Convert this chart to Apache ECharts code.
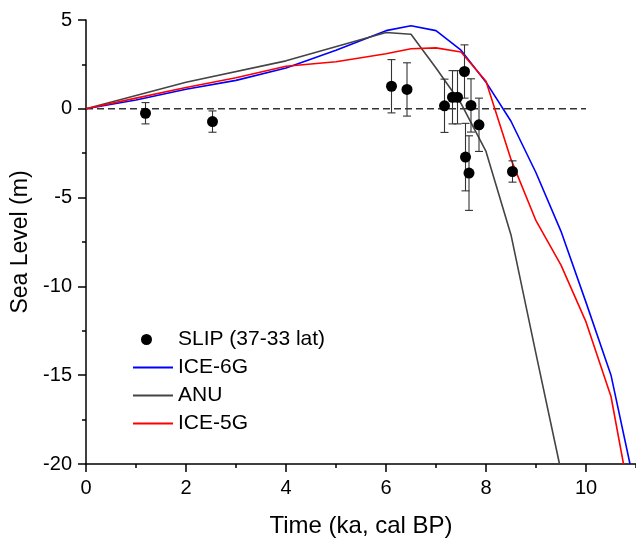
<!DOCTYPE html>
<html>
<head>
<meta charset="utf-8">
<script src="https://cdn.jsdelivr.net/npm/echarts@6/dist/echarts.min.js"></script>
<style>html,body{margin:0;padding:0;background:#fff}#c{width:636px;height:543px}</style>
</head>
<body>
<div id="c"></div>
<script>
// SLIP data (37-33 lat)
const slipX = [1.19, 2.53, 6.11, 6.42, 7.17, 7.33, 7.43, 7.57, 7.59, 7.66, 7.70, 7.86, 8.53];
const slipY = [-0.25, -0.72, 1.27, 1.09, 0.17, 0.65, 0.65, 2.10, -2.72, -3.62, 0.19, -0.90, -3.53];
const slipErr = [0.6, 0.6, 1.5, 1.5, 1.5, 1.5, 1.5, 1.5, 1.9, 2.1, 1.5, 1.5, 0.6];

// ICE-6G
const ice6gX = [0, 1, 2, 3, 4, 5, 6, 6.5, 7, 7.5, 8, 8.5, 9, 9.5, 10, 10.5, 10.88];
const ice6gY = [0, 0.5, 1.1, 1.6, 2.3, 3.3, 4.4, 4.68, 4.4, 3.3, 1.5, -0.7, -3.6, -6.9, -10.9, -15.0, -20];

// ANU
const anuX = [0, 2, 4, 6, 6.5, 7, 7.5, 8, 8.5, 9, 9.47];
const anuY = [0, 1.5, 2.7, 4.3, 4.2, 2.3, 0.3, -2.4, -7.1, -13.8, -20];

// ICE-5G
const ice5gX = [0, 1, 2, 3, 4, 5, 6, 6.5, 7, 7.5, 8, 8.5, 9, 9.5, 10, 10.5, 10.75];
const ice5gY = [0, 0.6, 1.2, 1.75, 2.4, 2.65, 3.1, 3.38, 3.43, 3.2, 1.55, -2.85, -6.3, -8.8, -12.0, -16.2, -20];

// zero reference line
const zeroX = [0, 10];
const zeroY = [0, 0];

const pairs = (xs, ys) => xs.map((x, i) => [x, ys[i]]);
const errData = slipX.map((x, i) => [x, slipY[i] - slipErr[i], slipY[i] + slipErr[i]]);

const font = 'Liberation Sans, Arial, sans-serif';
const lineIcon = 'path://M0,0 L40,0 L40,2 L0,2 Z';
const dotIcon = 'path://M0,0 L0,0 Z M40,11 L40,11 Z M8,5.5 A5.5,5.5 0 1,0 19,5.5 A5.5,5.5 0 1,0 8,5.5 Z';
const chart = echarts.init(document.getElementById('c'), null, {renderer: 'canvas'});

chart.setOption({
  animation: false,
  backgroundColor: '#fff',
  textStyle: {fontFamily: font},
  grid: {left: 86, top: 20, width: 553, height: 444, containLabel: false},
  legend: {
    orient: 'vertical',
    left: 128,
    top: 324,
    itemWidth: 40,
    itemHeight: 11,
    itemGap: 7,
    symbolKeepAspect: true,
    textStyle: {fontSize: 21, color: '#000', fontFamily: font},
    data: [
      {name: 'SLIP (37-33 lat)', icon: dotIcon, itemStyle: {color: '#000', opacity: 1}},
      {name: 'ICE-6G', icon: lineIcon, itemStyle: {color: '#0000ff'}},
      {name: 'ANU', icon: lineIcon, itemStyle: {color: '#444'}},
      {name: 'ICE-5G', icon: lineIcon, itemStyle: {color: '#ff0000'}}
    ]
  },
  xAxis: [
    {
      type: 'value', min: 0, max: 11, interval: 2,
      name: 'Time (ka, cal BP)', nameLocation: 'middle', nameGap: 50,
      nameTextStyle: {fontSize: 24, color: '#000', fontFamily: font},
      axisLine: {onZero: false, lineStyle: {color: '#000', width: 1.5}},
      axisTick: {length: 8, lineStyle: {color: '#000', width: 1.5}},
      axisLabel: {fontSize: 20, color: '#000', margin: 14, showMaxLabel: false, fontFamily: font},
      splitLine: {show: false}
    },
    {
      type: 'value', min: 0, max: 11, interval: 1, position: 'bottom',
      axisLine: {show: false, onZero: false},
      axisTick: {length: 4, lineStyle: {color: '#000', width: 1.5}},
      axisLabel: {show: false},
      splitLine: {show: false}
    }
  ],
  yAxis: {
    type: 'value', min: -20, max: 5, interval: 5,
    name: 'Sea Level (m)', nameLocation: 'middle', nameGap: 50,
    nameTextStyle: {fontSize: 23, color: '#000', fontFamily: font},
    axisLine: {onZero: false, lineStyle: {color: '#000', width: 1.5}},
    axisTick: {length: 8, lineStyle: {color: '#000', width: 1.5}},
    minorTick: {show: true, splitNumber: 2, length: 4, lineStyle: {color: '#000', width: 1.5}},
    axisLabel: {fontSize: 20, color: '#000', margin: 14, fontFamily: font},
    splitLine: {show: false},
    minorSplitLine: {show: false}
  },
  series: [
    {
      name: 'zero', type: 'line', data: pairs(zeroX, zeroY), symbol: 'none',
      lineStyle: {color: '#333', width: 1.6, type: [7, 4]}, z: 1, silent: true
    },
    {
      name: 'ICE-6G', type: 'line', data: pairs(ice6gX, ice6gY), symbol: 'none',
      lineStyle: {color: '#0000ff', width: 1.6}, itemStyle: {color: '#0000ff'}, z: 3
    },
    {
      name: 'ANU', type: 'line', data: pairs(anuX, anuY), symbol: 'none',
      lineStyle: {color: '#444', width: 1.6}, itemStyle: {color: '#444'}, z: 3
    },
    {
      name: 'ICE-5G', type: 'line', data: pairs(ice5gX, ice5gY), symbol: 'none',
      lineStyle: {color: '#ff0000', width: 1.6}, itemStyle: {color: '#ff0000'}, z: 3
    },
    {
      name: 'errbars', type: 'custom', data: errData, z: 4, silent: true,
      renderItem: function (params, api) {
        const x = api.value(0);
        const lo = api.coord([x, api.value(1)]);
        const hi = api.coord([x, api.value(2)]);
        const cw = 4;
        const st = {stroke: '#333', lineWidth: 1.1, fill: null};
        return {
          type: 'group',
          children: [
            {type: 'line', shape: {x1: lo[0], y1: lo[1], x2: hi[0], y2: hi[1]}, style: st},
            {type: 'line', shape: {x1: lo[0] - cw, y1: lo[1], x2: lo[0] + cw, y2: lo[1]}, style: st},
            {type: 'line', shape: {x1: hi[0] - cw, y1: hi[1], x2: hi[0] + cw, y2: hi[1]}, style: st}
          ]
        };
      }
    },
    {
      name: 'SLIP (37-33 lat)', type: 'scatter', data: pairs(slipX, slipY),
      symbol: 'circle', symbolSize: 11, itemStyle: {color: '#000', opacity: 1}, z: 5
    }
  ]
});
</script>
</body>
</html>
